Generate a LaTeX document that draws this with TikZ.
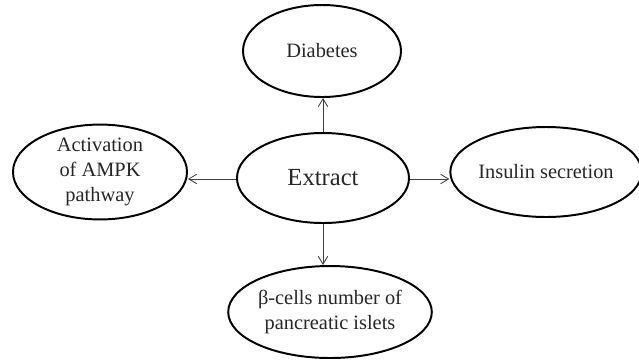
\documentclass[tikz,border=0pt]{standalone}
\usepackage{fontspec}
\setmainfont{Liberation Serif}
\usepackage{tikz}
\usetikzlibrary{positioning, arrows.meta, shapes.geometric, calc}

\begin{document}
\begin{tikzpicture}[
    bubble/.style={ellipse, draw=black, line width=1.4pt, inner sep=0pt,
                   text=black!85, align=center, font=\fontsize{14.5}{17.5}\selectfont},
    arrow/.style={-{Straight Barb[length=2mm, width=2.4mm]}, line width=0.6pt, draw=black!75},
]
    \useasboundingbox (0, 0) rectangle (15.975, -9.025);

    % Centre
    \node[bubble, minimum width=4.3cm, minimum height=2.25cm,
          font=\fontsize{17.5}{20}\selectfont] (extract) at (8.075, -4.45) {Extract};

    % Effects
    \node[bubble, minimum width=3.95cm, minimum height=2.3cm] (diabetes) at (8.05, -1.275) {Diabetes};
    \node[bubble, minimum width=4.35cm, minimum height=2.22cm] (ampk) at (2.5, -4.3) {Activation\\of AMPK\\pathway};
    \node[bubble, minimum width=4.35cm, minimum height=2.25cm] (insulin) at (13.65, -4.3) {Insulin secretion};
    \node[bubble, minimum width=4.375cm, minimum height=2.3cm] (islets) at (8.25, -7.8) {β-cells number of\\pancreatic islets};

    % Arrows
    \draw[arrow] (extract.north) -- (extract.north |- diabetes.south);
    \draw[arrow] (extract.south) -- (extract.south |- islets.north);
    \draw[arrow] ($(extract.west)+(0,-0.025)$) -- ($(ampk.east |- extract.west)+(0,-0.025)$);
    \draw[arrow] ($(extract.east)+(0,-0.025)$) -- ($(insulin.west |- extract.east)+(0,-0.025)$);

\end{tikzpicture}
\end{document}
